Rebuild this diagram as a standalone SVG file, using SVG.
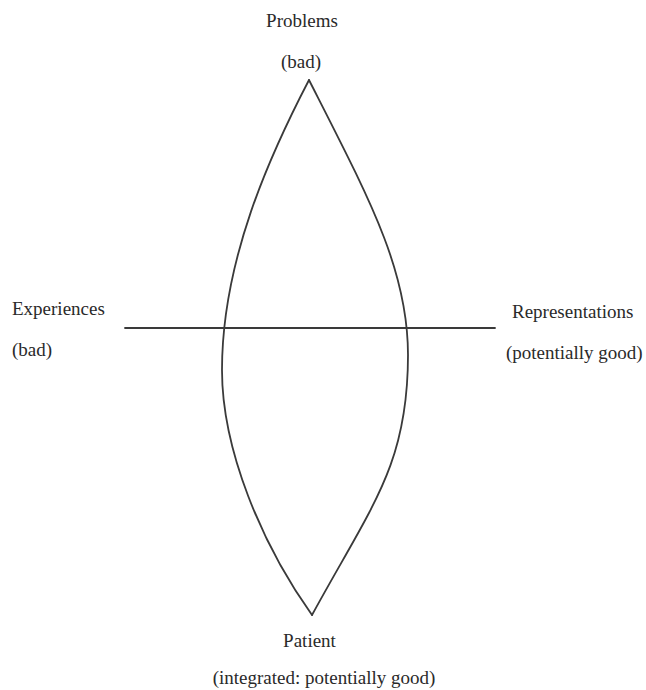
<svg xmlns="http://www.w3.org/2000/svg" width="646" height="690" viewBox="0 0 646 690">
<style>
text{font-family:"Liberation Serif","Times New Roman",serif;font-size:19px;fill:#2a2a2a}
.ln{fill:none;stroke:#3a3a3a;stroke-width:1.8;stroke-linecap:round;stroke-linejoin:miter}
</style>
<rect width="646" height="690" fill="#ffffff"/>
<g id="connectors">
<path class="ln" d="M309,80 C270,155 222,260 222,370 C222,450 262,545 312,615"/>
<path class="ln" d="M309,80 C370,200 408,270 408,355 C408,465 372,505 312,615"/>
<path class="ln" d="M125,328 L495,328"/>
</g>
<g id="problems"><text x="302" y="27" text-anchor="middle">Problems</text><text x="301" y="68" text-anchor="middle">(bad)</text></g>
<g id="experiences"><text x="12" y="315">Experiences</text><text x="12" y="356">(bad)</text></g>
<g id="representations"><text x="512" y="318">Representations</text><text x="506" y="359">(potentially good)</text></g>
<g id="patient"><text x="309.5" y="647" text-anchor="middle">Patient</text><text x="324" y="684" text-anchor="middle">(integrated: potentially good)</text></g>
</svg>
